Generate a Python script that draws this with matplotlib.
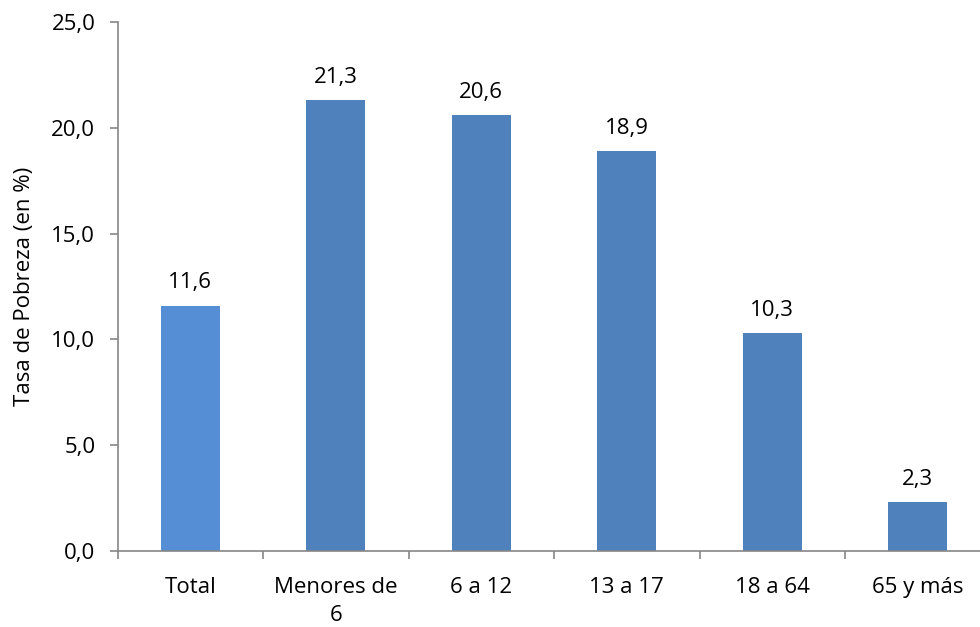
import matplotlib
matplotlib.use("Agg")
import matplotlib.pyplot as plt
import numpy as np

categories = ["Total", "Menores de\n6", "6 a 12", "13 a 17", "18 a 64", "65 y más"]
values = [11.6, 21.3, 20.6, 18.9, 10.3, 2.3]
bar_colors = ["#558ED5", "#4F81BD", "#4F81BD", "#4F81BD", "#4F81BD", "#4F81BD"]
yticks = [0, 5, 10, 15, 20, 25]
ytick_labels = ["0,0", "5,0", "10,0", "15,0", "20,0", "25,0"]

plt.rcParams['font.family'] = ['Open Sans', 'DejaVu Sans']
FS = 16

fig = plt.figure(figsize=(9.8, 6.27), dpi=100)
ax = fig.add_axes([117.5/980, 1-551/627, (990.5-117.5)/980, (551-22)/627])

x = np.arange(len(categories))
bars = ax.bar(x, values, width=0.405, color=bar_colors, zorder=2)

for xi, v in zip(x, values):
    ax.annotate(f"{v:.1f}".replace(".", ","), (xi, v), xytext=(0, 9),
                textcoords="offset points", ha="center", va="bottom",
                fontsize=FS)

ax.set_xlim(-0.5, len(categories) - 0.5)
ax.set_ylim(0, 25)
ax.set_yticks(yticks)
ax.set_yticklabels(ytick_labels, fontsize=FS)
ax.set_xticks(x)
ax.set_xticklabels(categories, fontsize=FS, linespacing=1.4)
ax.set_xticks(np.arange(len(categories) + 1) - 0.5, minor=True)

ax.tick_params(axis="x", which="major", length=0, pad=19)
ax.tick_params(axis="x", which="minor", length=6, width=1.2, color="#868686", direction="out")
ax.tick_params(axis="y", which="major", length=6, width=1.2, color="#868686", direction="out", pad=10)

for s in ["top", "right"]:
    ax.spines[s].set_visible(False)
for s in ["left", "bottom"]:
    ax.spines[s].set_color("#868686")
    ax.spines[s].set_linewidth(1.2)

ax.set_ylabel("Tasa de Pobreza (en %)", fontsize=FS, labelpad=12)

fig.savefig("out.png", dpi=100)
